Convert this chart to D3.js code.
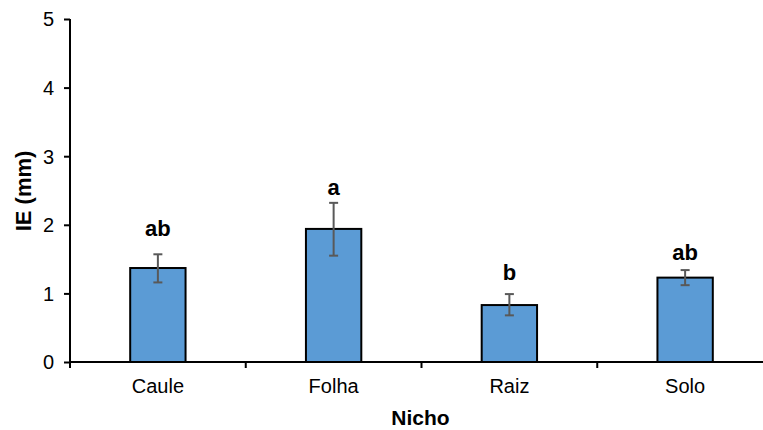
<!DOCTYPE html>
<html><head><meta charset="utf-8">
<script src="https://cdn.jsdelivr.net/npm/d3@7"></script>
<style>body{margin:0;background:#fff}svg{display:block}</style>
</head><body>
<svg id="c" width="763" height="430"></svg>
<script>
const categories = ["Caule", "Folha", "Raiz", "Solo"];
const means = [1.37, 1.94, 0.83, 1.23];
const errUpper = [1.57, 2.32, 0.99, 1.34];
const errLower = [1.16, 1.55, 0.68, 1.12];
const letters = ["ab", "a", "b", "ab"];
const letterY = [1.83, 2.43, 1.20, 1.49];
const yTicks = [0, 1, 2, 3, 4, 5];
const xTitle = "Nicho";
const yTitle = "IE (mm)";

(function () {
const svg = d3.select("#c");
const mLeft = 70, mRight = 773, mTop = 19, mBottom = 362;
const x = d3.scaleBand().domain(categories).range([mLeft, mRight]).padding(0);
const y = d3.scaleLinear().domain([0, 5]).range([mBottom, mTop]);
const bw = x.bandwidth() * 0.315;
const font = "Liberation Sans, Arial, sans-serif";

// bars
svg.selectAll("rect.bar").data(categories).join("rect")
  .attr("x", c => x(c) + (x.bandwidth() - bw) / 2)
  .attr("y", (c, i) => y(means[i]))
  .attr("width", bw)
  .attr("height", (c, i) => y(0) - y(means[i]))
  .attr("fill", "#5B9BD5").attr("stroke", "#000").attr("stroke-width", 2);

// error bars
const cx = c => x(c) + x.bandwidth() / 2;
const eb = svg.append("g").attr("stroke", "#595959").attr("stroke-width", 2);
categories.forEach((c, i) => {
  eb.append("line").attr("x1", cx(c)).attr("x2", cx(c)).attr("y1", y(errUpper[i])).attr("y2", y(errLower[i]));
  eb.append("line").attr("x1", cx(c) - 4.5).attr("x2", cx(c) + 4.5).attr("y1", y(errUpper[i])).attr("y2", y(errUpper[i]));
  eb.append("line").attr("x1", cx(c) - 4.5).attr("x2", cx(c) + 4.5).attr("y1", y(errLower[i])).attr("y2", y(errLower[i]));
});

// letters
svg.selectAll("text.let").data(categories).join("text")
  .attr("x", c => cx(c)).attr("y", (c, i) => y(letterY[i]))
  .attr("text-anchor", "middle").attr("font-family", font)
  .attr("font-weight", "bold").attr("font-size", 22).attr("fill", "#000")
  .text((c, i) => letters[i]);

// y axis
const ya = svg.append("g").attr("transform", `translate(${mLeft},0)`)
  .call(d3.axisLeft(y).tickValues(yTicks).tickFormat(d3.format("d")).tickSize(6).tickPadding(10));
ya.select(".domain").attr("stroke", "#000").attr("stroke-width", 2).attr("d", `M0,${mTop}V${mBottom}`);
ya.selectAll(".tick line").attr("stroke", "#000").attr("stroke-width", 2);
ya.selectAll(".tick text").attr("font-family", font).attr("font-size", 20).attr("fill", "#000").attr("dy", "0.34em");

// x axis
const xa = svg.append("g").attr("transform", `translate(0,${mBottom})`)
  .call(d3.axisBottom(x).tickSize(0).tickPadding(17));
xa.select(".domain").attr("stroke", "#000").attr("stroke-width", 2).attr("d", `M${mLeft},0H${mRight}`);
xa.selectAll(".tick text").attr("font-family", font).attr("font-size", 20).attr("fill", "#000").attr("dy", "0.71em");
// boundary ticks
svg.append("g").selectAll("line").data(categories.slice(1).concat(["__end"])).join("line")
  .attr("x1", c => c === "__end" ? mRight : x(c)).attr("x2", c => c === "__end" ? mRight : x(c))
  .attr("y1", mBottom).attr("y2", mBottom + 6).attr("stroke", "#000").attr("stroke-width", 2);
svg.append("line").attr("x1", mLeft).attr("x2", mLeft).attr("y1", mBottom).attr("y2", mBottom + 6)
  .attr("stroke", "#000").attr("stroke-width", 2);

// titles
svg.append("text").attr("x", (mLeft + mRight) / 2 - 1).attr("y", 425)
  .attr("text-anchor", "middle").attr("font-family", font).attr("font-weight", "bold")
  .attr("font-size", 21).attr("fill", "#000").text(xTitle);
svg.append("text").attr("transform", "translate(31,191) rotate(-90)")
  .attr("text-anchor", "middle").attr("font-family", font).attr("font-weight", "bold")
  .attr("font-size", 22).attr("fill", "#000").text(yTitle);
})();
</script>
</body></html>
